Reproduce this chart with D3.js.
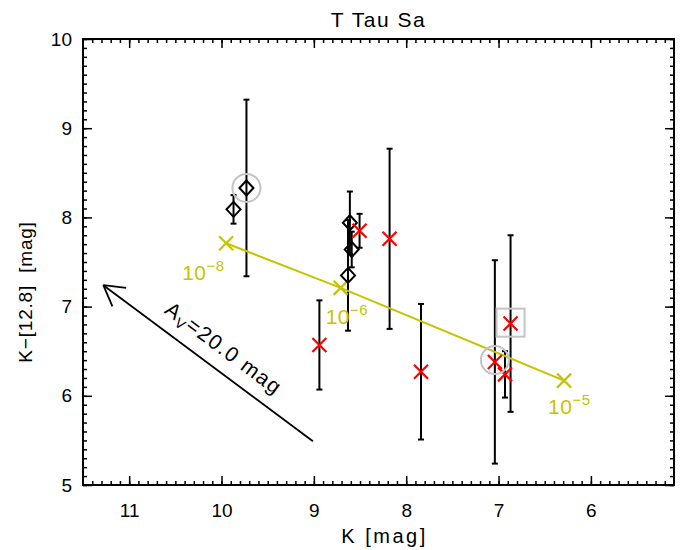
<!DOCTYPE html>
<html>
<head>
<meta charset="utf-8">
<script src="https://cdn.jsdelivr.net/npm/d3@7"></script>
<style>
  body { margin: 0; background: #fff; }
  text { font-family: "Liberation Sans", "DejaVu Sans", sans-serif; }
</style>
</head>
<body>
<div id="chart"></div>
<script>
// data
const titleText = "T Tau Sa";
const xTicks = [11, 10, 9, 8, 7, 6];
const yTicks = [5, 6, 7, 8, 9, 10];

// diamonds (black)
const diamondK = [9.73, 9.87, 8.61, 8.59, 8.63];
const diamondColor = [8.33, 8.09, 7.94, 7.64, 7.35];
const diamondErr = [0.99, 0.16, 0.35, 0.2, 0.62];

// red crosses
const crossK = [8.505, 8.18, 8.94, 7.84, 7.04, 6.93, 6.87];
const crossColor = [7.85, 7.76, 6.57, 6.27, 6.38, 6.24, 6.81];
const crossErr = [0.19, 1.01, 0.5, 0.76, 1.14, 0.26, 0.99];

// highlighted sources
const circleK = [9.73, 7.04];
const circleColor = [8.33, 6.40];
const boxK = [6.87];
const boxColor = [6.82];

// yellow model track
const modelK = [9.95, 8.71, 6.29];
const modelColor = [7.71, 7.21, 6.17];
const modelExp = ["\u22128", "\u22126", "\u22125"];

// extinction vector
const arrowK = [9.01, 11.28];
const arrowColor = [5.49, 7.24];
const arrowLabel = "=20.0 mag";

const W = 692, H = 550;
const margin = {top: 39, right: 18, bottom: 65, left: 83};
const yellow = "#c8c300";

const svg = d3.select("#chart").append("svg")
  .attr("width", W).attr("height", H);

const x = d3.scaleLinear().domain([11.5, 5.1]).range([margin.left, W - margin.right]);
const y = d3.scaleLinear().domain([5, 10]).range([H - margin.bottom, margin.top]);

const minorX = d3.range(52, 115).map(d => d / 10);
const minorY = d3.range(50, 101).map(d => d / 10);

function styleAxis(g) {
  g.select(".domain").remove();
  g.selectAll("line").attr("stroke", "#000").attr("stroke-width", 1.5);
  g.selectAll("text").attr("font-size", 19).attr("fill", "#000");
}

const x0 = x.range()[0], x1 = x.range()[1];
const y0 = y.range()[0], y1 = y.range()[1];

// minor ticks
svg.append("g").attr("transform", `translate(0,${y0})`)
  .call(d3.axisBottom(x).tickValues(minorX).tickSize(-4).tickFormat("")).call(styleAxis);
svg.append("g").attr("transform", `translate(0,${y1})`)
  .call(d3.axisTop(x).tickValues(minorX).tickSize(-4).tickFormat("")).call(styleAxis);
svg.append("g").attr("transform", `translate(${x0},0)`)
  .call(d3.axisLeft(y).tickValues(minorY).tickSize(-4).tickFormat("")).call(styleAxis);
svg.append("g").attr("transform", `translate(${x1},0)`)
  .call(d3.axisRight(y).tickValues(minorY).tickSize(-4).tickFormat("")).call(styleAxis);

// major ticks
svg.append("g").attr("transform", `translate(0,${y0})`)
  .call(d3.axisBottom(x).tickValues(xTicks).tickSize(-9).tickPadding(19).tickFormat(d3.format("d")))
  .call(styleAxis);
svg.append("g").attr("transform", `translate(0,${y1})`)
  .call(d3.axisTop(x).tickValues(xTicks).tickSize(-9).tickFormat("")).call(styleAxis);
svg.append("g").attr("transform", `translate(${x0},0)`)
  .call(d3.axisLeft(y).tickValues(yTicks).tickSize(-9).tickPadding(11).tickFormat(d3.format("d")))
  .call(styleAxis);
svg.append("g").attr("transform", `translate(${x1},0)`)
  .call(d3.axisRight(y).tickValues(yTicks).tickSize(-9).tickFormat("")).call(styleAxis);

// frame
svg.append("rect")
  .attr("x", x0).attr("y", y1).attr("width", x1 - x0).attr("height", y0 - y1)
  .attr("fill", "none").attr("stroke", "#000").attr("stroke-width", 2);

// titles
svg.append("text").attr("x", (x0 + x1) / 2).attr("y", 27)
  .attr("text-anchor", "middle").attr("font-size", 21).attr("letter-spacing", 1.5).text(titleText);
svg.append("text").attr("x", (x0 + x1) / 2 + 6).attr("y", 543)
  .attr("text-anchor", "middle").attr("font-size", 20).attr("letter-spacing", 2.5)
  .style("white-space", "pre").text("K [mag]");
svg.append("text")
  .attr("transform", "translate(32,292) rotate(-90)")
  .attr("text-anchor", "middle").attr("font-size", 19).attr("letter-spacing", 0.8)
  .style("white-space", "pre")
  .text("K\u2212[12.8]  [mag]");

// error bars
function errorBars(ks, cs, es) {
  const g = svg.append("g").attr("stroke", "#000").attr("stroke-width", 2);
  ks.forEach((k, i) => {
    const px = x(k), top = y(cs[i] + es[i]), bot = y(cs[i] - es[i]);
    g.append("line").attr("x1", px).attr("x2", px).attr("y1", top).attr("y2", bot);
    g.append("line").attr("x1", px - 3).attr("x2", px + 3).attr("y1", top).attr("y2", top);
    g.append("line").attr("x1", px - 3).attr("x2", px + 3).attr("y1", bot).attr("y2", bot);
  });
}
errorBars(diamondK, diamondColor, diamondErr);
errorBars(crossK, crossColor, crossErr);

// model track
const line = d3.line().x(d => x(d[0])).y(d => y(d[1]));
svg.append("path")
  .attr("d", line(modelK.map((k, i) => [k, modelColor[i]])))
  .attr("fill", "none").attr("stroke", yellow).attr("stroke-width", 2);

function cross(g, px, py, s, color) {
  g.append("path")
    .attr("d", `M${px - s},${py - s}L${px + s},${py + s}M${px - s},${py + s}L${px + s},${py - s}`)
    .attr("stroke", color).attr("stroke-width", 2.2).attr("fill", "none");
}

const mg = svg.append("g");
modelK.forEach((k, i) => cross(mg, x(k), y(modelColor[i]), 7, yellow));

const labelOffsets = [[-44, 37], [-15, 36], [-16, 33]];
modelK.forEach((k, i) => {
  const t = svg.append("text")
    .attr("x", x(k) + labelOffsets[i][0]).attr("y", y(modelColor[i]) + labelOffsets[i][1])
    .attr("font-size", 21).attr("fill", yellow).attr("letter-spacing", 0.5);
  t.append("tspan").text("10");
  t.append("tspan").attr("dy", -9).attr("font-size", 15).text(modelExp[i]);
});

// diamonds
svg.append("g").selectAll("path").data(diamondK).join("path")
  .attr("d", (k, i) => {
    const px = x(k), py = y(diamondColor[i]);
    return `M${px},${py - 7.5}L${px + 7},${py}L${px},${py + 7.5}L${px - 7},${py}Z`;
  })
  .attr("fill", "none").attr("stroke", "#000").attr("stroke-width", 2);

// red crosses
const cg = svg.append("g");
crossK.forEach((k, i) => cross(cg, x(k), y(crossColor[i]), 7, "#ff0000"));

// highlights
svg.append("g").selectAll("circle").data(circleK).join("circle")
  .attr("cx", d => x(d)).attr("cy", (d, i) => y(circleColor[i])).attr("r", 14)
  .attr("fill", "none").attr("stroke", "#c4c4c4").attr("stroke-width", 2);
svg.append("g").selectAll("rect").data(boxK).join("rect")
  .attr("x", d => x(d) - 14).attr("y", (d, i) => y(boxColor[i]) - 14)
  .attr("width", 28).attr("height", 28)
  .attr("fill", "none").attr("stroke", "#c4c4c4").attr("stroke-width", 2);

// extinction arrow
const ax0 = x(arrowK[0]), ay0 = y(arrowColor[0]);
const ax1 = x(arrowK[1]), ay1 = y(arrowColor[1]);
const ang = Math.atan2(ay0 - ay1, ax0 - ax1);
const headLen = 23, headAng = 30 * Math.PI / 180;
const ag = svg.append("g").attr("stroke", "#000").attr("stroke-width", 1.8).attr("fill", "none");
ag.append("line").attr("x1", ax0).attr("y1", ay0).attr("x2", ax1).attr("y2", ay1);
[-1, 1].forEach(s => {
  ag.append("line").attr("x1", ax1).attr("y1", ay1)
    .attr("x2", ax1 + headLen * Math.cos(ang + s * headAng))
    .attr("y2", ay1 + headLen * Math.sin(ang + s * headAng));
});
const deg = ang * 180 / Math.PI;
const at = svg.append("text")
  .attr("transform", `translate(${(ax0 + ax1) / 2 + 3},${(ay0 + ay1) / 2 + 2}) rotate(${deg}) translate(0,-14)`)
  .attr("text-anchor", "middle").attr("font-size", 21).attr("letter-spacing", 1.5)
  .style("white-space", "pre");
at.append("tspan").text("A");
at.append("tspan").attr("dy", 4).attr("font-size", 14).text("V");
at.append("tspan").attr("dy", -4).text(arrowLabel);
</script>
</body>
</html>
